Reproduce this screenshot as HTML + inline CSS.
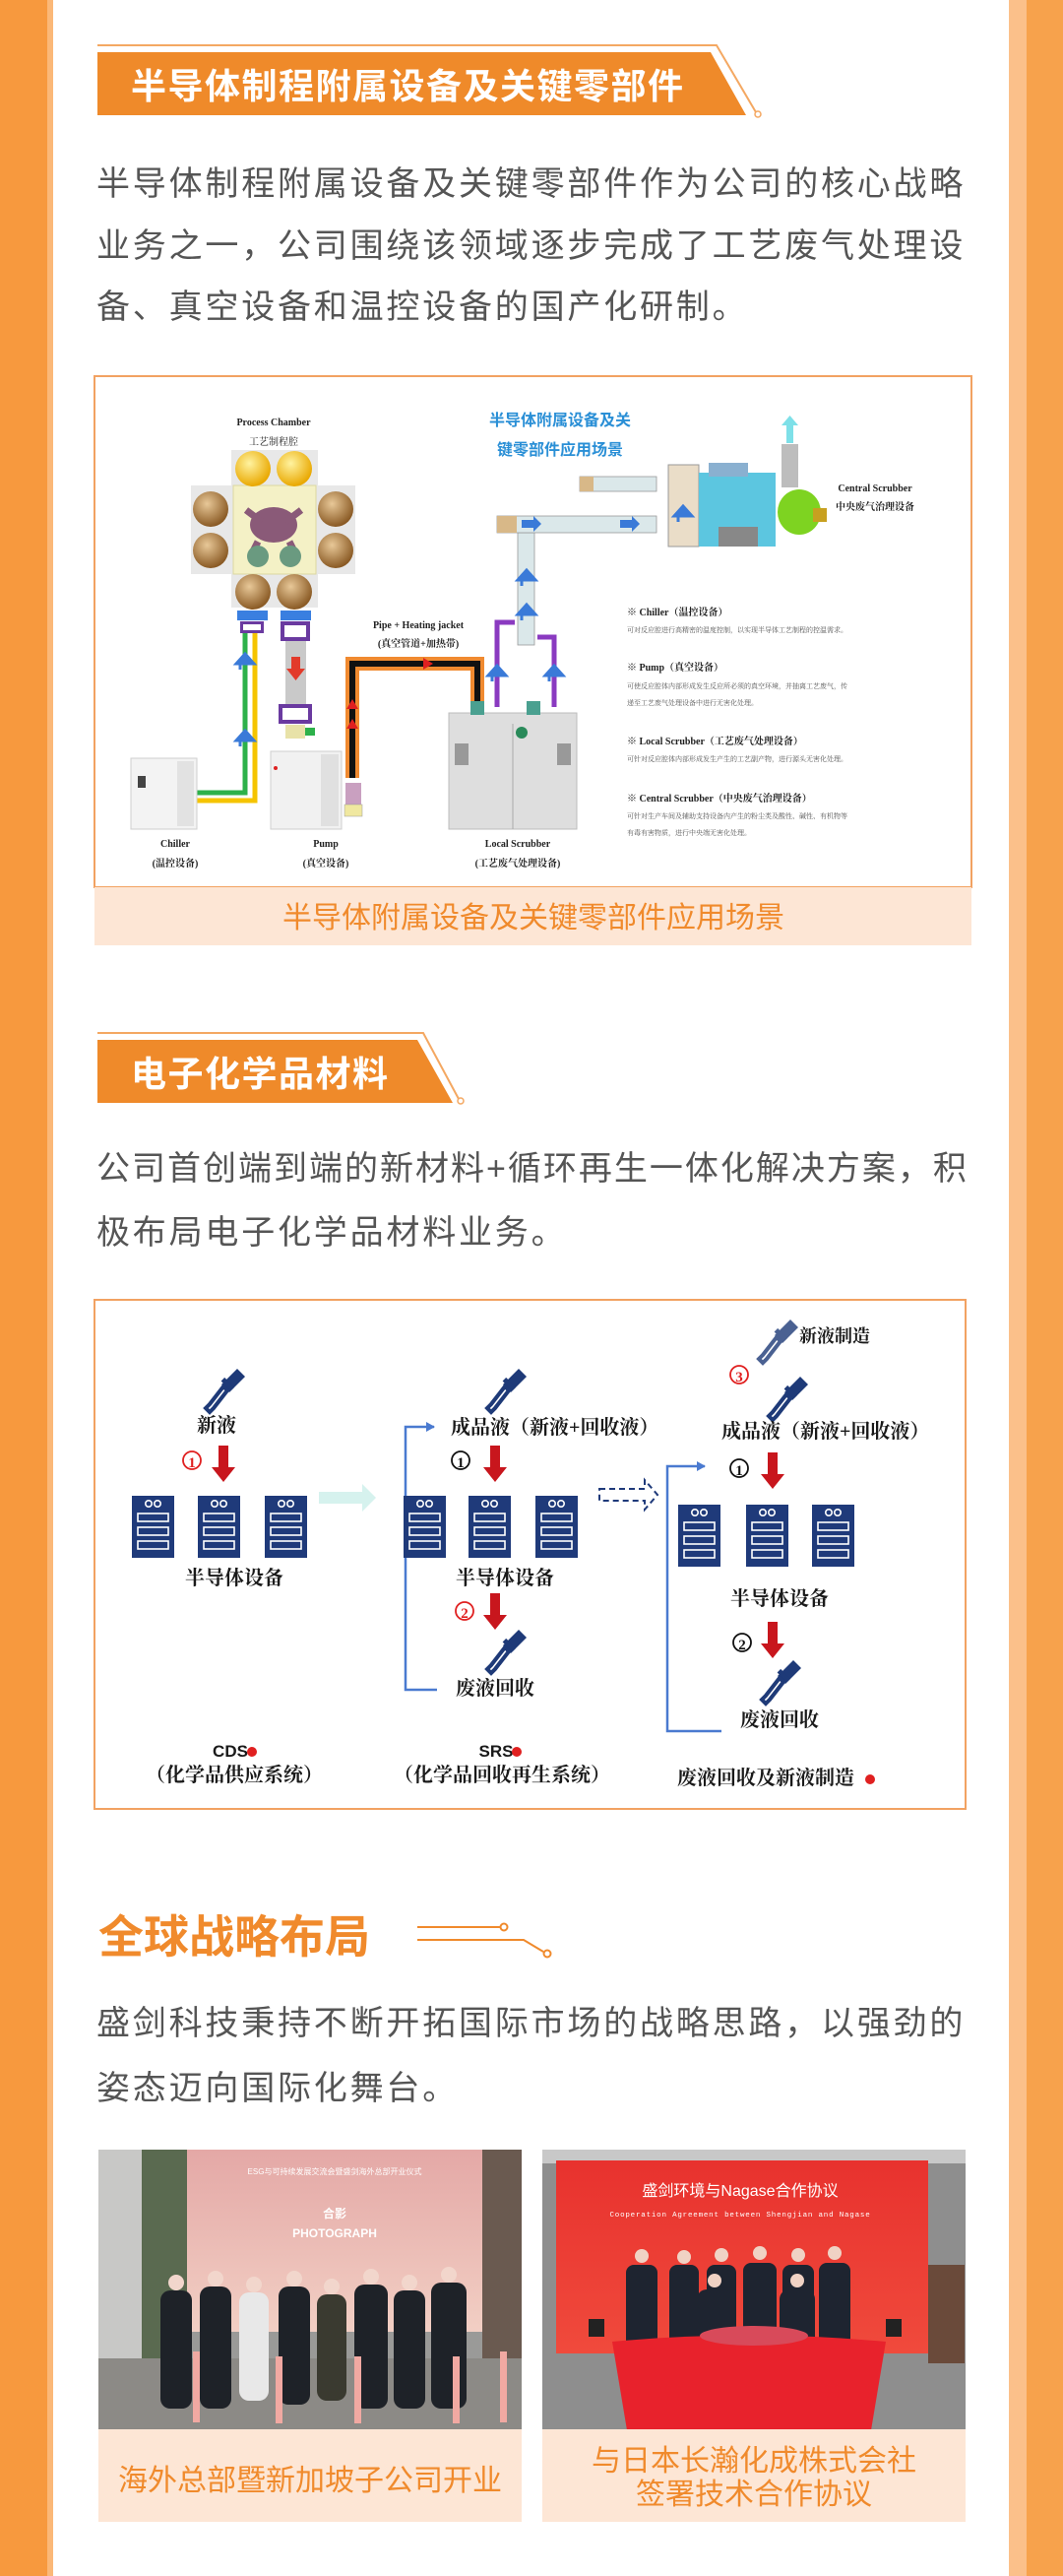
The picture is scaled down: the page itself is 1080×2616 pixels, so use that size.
<!DOCTYPE html>
<html><head><meta charset="utf-8">
<style>
html,body{margin:0;padding:0}
body{width:1080px;height:2616px;position:relative;overflow:hidden;background:#f7993e;font-family:"Liberation Sans","Noto Sans CJK SC",sans-serif}
.panel{position:absolute;left:54px;top:0;width:971px;height:2616px;background:#fff}
.ls{position:absolute;left:48px;top:0;width:6px;height:2616px;background:#fbb878}
.rs{position:absolute;left:1025px;top:0;width:18px;height:2616px;background:#fbc08a}
.rb{position:absolute;left:1043px;top:0;width:37px;height:2616px;background:#f7a24c}
.p{position:absolute;left:98px;font-size:34px;letter-spacing:2.8px;color:#555;white-space:nowrap;line-height:40px}
svg text{font-family:"Liberation Serif","Noto Serif CJK SC",serif}
</style></head><body>
<div class="ls"></div><div class="panel"></div><div class="rs"></div><div class="rb"></div>

<div class="p" style="top:167px">半导体制程附属设备及关键零部件作为公司的核心战略</div>
<div class="p" style="top:230px">业务之一，公司围绕该领域逐步完成了工艺废气处理设</div>
<div class="p" style="top:292px">备、真空设备和温控设备的国产化研制。</div>

<div class="p" style="top:1167px;letter-spacing:2.0px">公司首创端到端的新材料+循环再生一体化解决方案，积</div>
<div class="p" style="top:1232px">极布局电子化学品材料业务。</div>

<div class="p" style="top:2035px">盛剑科技秉持不断开拓国际市场的战略思路，以强劲的</div>
<div class="p" style="top:2101px">姿态迈向国际化舞台。</div>

<svg width="1080" height="2616" style="position:absolute;left:0;top:0" xmlns="http://www.w3.org/2000/svg">
<defs>
 <radialGradient id="gy" cx="40%" cy="35%" r="65%"><stop offset="0" stop-color="#fff3a0"/><stop offset="1" stop-color="#e9a800"/></radialGradient>
 <radialGradient id="gb" cx="40%" cy="35%" r="65%"><stop offset="0" stop-color="#e8c898"/><stop offset="1" stop-color="#8a5a24"/></radialGradient>
 <g id="drop">
  <path d="M14,-22 L22,-14 L6,2 L-2,-6 Z" fill="#1e3a78"/>
  <path d="M0,-4 L4,0 L-10,18 L-14,22 L-18,18 L-14,14 Z" fill="none" stroke="#1e3a78" stroke-width="4"/>
  <rect x="-3" y="-9" width="14" height="5" transform="rotate(45 4 -6)" fill="#1e3a78"/>
 </g>
 <g id="srv">
  <rect x="0" y="0" width="43" height="63" fill="#1f3a7a"/>
  <circle cx="17" cy="8" r="3.2" fill="none" stroke="#fff" stroke-width="1.6"/>
  <circle cx="26" cy="8" r="3.2" fill="none" stroke="#fff" stroke-width="1.6"/>
  <rect x="6" y="18" width="31" height="8" fill="none" stroke="#fff" stroke-width="1.6"/>
  <rect x="6" y="32" width="31" height="8" fill="none" stroke="#fff" stroke-width="1.6"/>
  <rect x="6" y="46" width="31" height="8" fill="none" stroke="#fff" stroke-width="1.6"/>
 </g>
 <g id="rarr"><rect x="-5" y="0" width="10" height="24" fill="#c8161d"/><path d="M-12,22 L12,22 L0,37 Z" fill="#c8161d"/></g>
 <g id="barr"><path d="M-5,10 V0 M-9,4 L0,-6 L9,4 Z" fill="#3a7ad8" stroke="#3a7ad8" stroke-width="3"/></g>
</defs>

<polyline points="99,46 728,46 768,114" fill="none" stroke="#f4a862" stroke-width="2"/>
<circle cx="770" cy="116" r="3" fill="#fff" stroke="#f4a862" stroke-width="1.5"/>
<polygon points="99,53 722,53 758,117 99,117" fill="#ef8a2a"/>
<text x="133" y="100" font-size="36" font-weight="bold" fill="#fff" letter-spacing="1.5" style="font-family:'Liberation Sans','Noto Sans CJK SC',sans-serif">半导体制程附属设备及关键零部件</text>

<g transform="translate(90,370)">
 <rect x="6" y="12" width="891" height="519" fill="#fff" stroke="#f2a262" stroke-width="2"/>
 <rect x="6" y="531" width="891" height="59" fill="#fde6d5"/>
 <text x="452" y="572" font-size="30" fill="#f08a2c" text-anchor="middle" style="font-family:'Liberation Sans','Noto Sans CJK SC',sans-serif">半导体附属设备及关键零部件应用场景</text>

 <text x="188" y="62" font-size="10" font-weight="bold" fill="#222" text-anchor="middle">Process Chamber</text>
 <text x="188" y="82" font-size="10" fill="#222" text-anchor="middle">工艺制程腔</text>
 <rect x="145" y="87" width="88" height="160" fill="#e8e8e8"/>
 <rect x="104" y="123" width="167" height="90" fill="#e8e8e8"/>
 <rect x="147" y="123" width="84" height="90" fill="#f4f1c6" stroke="#dcd8a0"/>
 <circle cx="167" cy="106" r="18" fill="url(#gy)"/><circle cx="209" cy="106" r="18" fill="url(#gy)"/>
 <circle cx="124" cy="147" r="18" fill="url(#gb)"/><circle cx="124" cy="189" r="18" fill="url(#gb)"/>
 <circle cx="251" cy="147" r="18" fill="url(#gb)"/><circle cx="251" cy="189" r="18" fill="url(#gb)"/>
 <circle cx="167" cy="231" r="18" fill="url(#gb)"/><circle cx="209" cy="231" r="18" fill="url(#gb)"/>
 <ellipse cx="188" cy="163" rx="24" ry="18" fill="#8a5a78"/>
 <path d="M160,148 L176,160 M216,148 L200,160 M172,180 L166,192 M204,180 L210,192" stroke="#8a5a78" stroke-width="7"/>
 <circle cx="172" cy="195" r="11" fill="#6a9a80"/><circle cx="205" cy="195" r="11" fill="#6a9a80"/>
 <rect x="151" y="250" width="31" height="10" fill="#3a7fe0"/><rect x="195" y="250" width="31" height="10" fill="#3a7fe0"/>
 <rect x="154" y="261" width="24" height="12" fill="#6a3aa0"/><rect x="157" y="264" width="18" height="6" fill="#fff"/>
 <rect x="195" y="261" width="30" height="20" fill="#6a3aa0"/><rect x="199" y="265" width="22" height="12" fill="#fff"/>
 <rect x="200" y="281" width="21" height="65" fill="#c9c9c9"/>
 <path d="M206,297 h9 v12 h5 l-9.5,12 l-9.5,-12 h5 z" fill="#e23a2a"/>
 <rect x="193" y="345" width="34" height="20" fill="#6a3aa0"/><rect x="197" y="349" width="26" height="12" fill="#fff"/>
 <rect x="200" y="366" width="20" height="14" fill="#e8e2a8"/><rect x="220" y="369" width="10" height="8" fill="#2db14a"/>
 <polyline points="159,273 159,435 110,435" fill="none" stroke="#2db14a" stroke-width="5"/>
 <polyline points="169,273 169,443 110,443" fill="none" stroke="#f5c400" stroke-width="5"/>
 <use href="#barr" x="159" y="300"/><use href="#barr" x="159" y="378"/>
 <rect x="43" y="400" width="67" height="72" fill="#f3f3f3" stroke="#cfcfcf"/>
 <rect x="90" y="403" width="17" height="66" fill="#e2e2e2"/>
 <rect x="50" y="418" width="8" height="12" fill="#444"/>
 <rect x="185" y="393" width="72" height="79" fill="#f1f1f1" stroke="#cfcfcf"/>
 <rect x="236" y="396" width="18" height="73" fill="#e0e0e0"/>
 <circle cx="190" cy="410" r="2" fill="#d22"/>
 <path d="M268,420 V304 H395 V348" fill="none" stroke="#f08a30" stroke-width="14"/>
 <path d="M268,420 V304 H395 V348" fill="none" stroke="#111" stroke-width="6"/>
 <path d="M262,350 h12 l-6,-10 z M262,370 h12 l-6,-10 z" fill="#e02020"/>
 <path d="M340,298 v12 l10,-6 z" fill="#e02020"/>
 <rect x="261" y="425" width="16" height="22" fill="#c9a0c0"/><rect x="260" y="447" width="18" height="12" fill="#f0e8a0" stroke="#999" stroke-width=".5"/>
 <rect x="366" y="354" width="130" height="118" fill="#dedede" stroke="#bcbcbc"/>
 <line x1="431" y1="365" x2="431" y2="472" stroke="#aaa"/>
 <rect x="372" y="385" width="14" height="22" fill="#999"/><rect x="476" y="385" width="14" height="22" fill="#999"/>
 <circle cx="440" cy="374" r="6" fill="#2a8a5a"/>
 <rect x="388" y="342" width="14" height="14" fill="#4aa090"/><rect x="445" y="342" width="14" height="14" fill="#4aa090"/>
 <path d="M415,348 V262 H433" fill="none" stroke="#8a3ac0" stroke-width="5"/>
 <path d="M473,348 V277 H456" fill="none" stroke="#8a3ac0" stroke-width="5"/>
 <use href="#barr" x="415" y="312"/><use href="#barr" x="473" y="312"/>
 <rect x="436" y="171" width="17" height="114" fill="#dbe8ea" stroke="#999" stroke-width=".8"/>
 <rect x="415" y="154" width="162" height="17" fill="#dbe8ea" stroke="#999" stroke-width=".8"/>
 <rect x="415" y="154" width="20" height="17" fill="#d8b888"/>
 <rect x="499" y="114" width="78" height="15" fill="#dbe8ea" stroke="#999" stroke-width=".8"/>
 <rect x="499" y="114" width="14" height="15" fill="#d8b888"/>
 <use href="#barr" x="445" y="215"/><use href="#barr" x="445" y="250"/>
 <path d="M440,158 h12 v-4 l8,8 l-8,8 v-4 h-12 z M540,158 h12 v-4 l8,8 l-8,8 v-4 h-12 z" fill="#3a7ad8"/>
 <rect x="589" y="102" width="31" height="83" fill="#eaddc8" stroke="#999"/>
 <use href="#barr" x="604" y="150"/>
 <rect x="620" y="110" width="78" height="75" fill="#5cc6e0"/>
 <rect x="630" y="100" width="40" height="14" fill="#8ab0d0"/>
 <rect x="640" y="165" width="40" height="20" fill="#888"/>
 <ellipse cx="722" cy="150" rx="22" ry="23" fill="#7ed321"/>
 <rect x="736" y="146" width="14" height="14" fill="#c8a020"/>
 <rect x="704" y="81" width="17" height="44" fill="#bdbdbd"/>
 <path d="M709,80 V62 h-5 l8.5,-10 l8.5,10 h-5 v18 z" fill="#7ee0e8"/>
 <text x="479" y="62" font-size="16" font-weight="bold" fill="#2a8fd6" text-anchor="middle" style="font-family:'Liberation Sans','Noto Sans CJK SC',sans-serif">半导体附属设备及关</text>
 <text x="479" y="92" font-size="16" font-weight="bold" fill="#2a8fd6" text-anchor="middle" style="font-family:'Liberation Sans','Noto Sans CJK SC',sans-serif">键零部件应用场景</text>
 <text x="799" y="129" font-size="10" font-weight="bold" fill="#222" text-anchor="middle">Central Scrubber</text>
 <text x="799" y="148" font-size="10" font-weight="bold" fill="#222" text-anchor="middle">中央废气治理设备</text>
 <text x="335" y="268" font-size="10" font-weight="bold" fill="#222" text-anchor="middle">Pipe + Heating jacket</text>
 <text x="335" y="287" font-size="10" font-weight="bold" fill="#222" text-anchor="middle">(真空管道+加热带)</text>
 <text x="88" y="490" font-size="10" font-weight="bold" fill="#222" text-anchor="middle">Chiller</text>
 <text x="88" y="510" font-size="10" font-weight="bold" fill="#222" text-anchor="middle">(温控设备)</text>
 <text x="241" y="490" font-size="10" font-weight="bold" fill="#222" text-anchor="middle">Pump</text>
 <text x="241" y="510" font-size="10" font-weight="bold" fill="#222" text-anchor="middle">(真空设备)</text>
 <text x="436" y="490" font-size="10" font-weight="bold" fill="#222" text-anchor="middle">Local Scrubber</text>
 <text x="436" y="510" font-size="10" font-weight="bold" fill="#222" text-anchor="middle">(工艺废气处理设备)</text>
 <g font-size="10" font-weight="bold" fill="#222">
  <text x="547" y="255">※ Chiller（温控设备）</text>
  <text x="547" y="311">※ Pump（真空设备）</text>
  <text x="547" y="386">※ Local Scrubber（工艺废气处理设备）</text>
  <text x="547" y="444">※ Central Scrubber（中央废气治理设备）</text>
 </g>
 <g font-size="7" fill="#555">
  <text x="547" y="272">可对反应腔进行高精密的温度控制，以实现半导体工艺制程的控温需求。</text>
  <text x="547" y="329">可使反应腔体内部形成发生反应所必须的真空环境，并抽离工艺废气，传</text>
  <text x="547" y="346">递至工艺废气处理设备中进行无害化处理。</text>
  <text x="547" y="403">可针对反应腔体内部形成发生产生的工艺副产物，进行源头无害化处理。</text>
  <text x="547" y="461">可针对生产车间及辅助支持设备内产生的粉尘类及酸性、碱性、有机物等</text>
  <text x="547" y="478">有毒有害物质，进行中央端无害化处理。</text>
 </g>
</g>

<polyline points="99,1049 430,1049 466,1116" fill="none" stroke="#f4a862" stroke-width="2"/>
<circle cx="468" cy="1118" r="3" fill="#fff" stroke="#f4a862" stroke-width="1.5"/>
<polygon points="99,1056 424,1056 460,1120 99,1120" fill="#ef8a2a"/>
<text x="133" y="1103" font-size="36" font-weight="bold" fill="#fff" letter-spacing="1.5" style="font-family:'Liberation Sans','Noto Sans CJK SC',sans-serif">电子化学品材料</text>

<rect x="96" y="1320" width="885" height="517" fill="#fff" stroke="#f2a262" stroke-width="2"/>
<g font-size="20" font-weight="bold" fill="#1a1a1a" style="font-family:'Noto Serif CJK SC','Liberation Serif',serif">
 <use href="#drop" x="227" y="1412"/>
 <text x="220" y="1454" text-anchor="middle">新液</text>
 <circle cx="195" cy="1483" r="9" fill="#fff" stroke="#e02020" stroke-width="1.8"/><text x="195" y="1490" font-size="15" fill="#e02020" text-anchor="middle">1</text>
 <use href="#rarr" x="227" y="1468"/>
 <use href="#srv" x="134" y="1519"/><use href="#srv" x="201" y="1519"/><use href="#srv" x="269" y="1519"/>
 <text x="238" y="1609" text-anchor="middle">半导体设备</text>
 <path d="M324,1515 h44 v-8 l14,14 l-14,14 v-8 h-44 z" fill="#d6f2ee"/>

 <polyline points="441,1449 412,1449 412,1716 444,1716" fill="none" stroke="#4a7ad0" stroke-width="2.5"/>
 <path d="M433,1444 l9,5 l-9,5 z" fill="#4a7ad0"/>
 <use href="#drop" x="513" y="1412"/>
 <text x="458" y="1456">成品液（新液+回收液）</text>
 <circle cx="468" cy="1483" r="9" fill="#fff" stroke="#111" stroke-width="1.8"/><text x="468" y="1490" font-size="15" fill="#111" text-anchor="middle">1</text>
 <use href="#rarr" x="503" y="1468"/>
 <use href="#srv" x="410" y="1519"/><use href="#srv" x="476" y="1519"/><use href="#srv" x="544" y="1519"/>
 <text x="513" y="1609" text-anchor="middle">半导体设备</text>
 <circle cx="472" cy="1636" r="9" fill="#fff" stroke="#e02020" stroke-width="1.8"/><text x="472" y="1643" font-size="15" fill="#e02020" text-anchor="middle">2</text>
 <use href="#rarr" x="503" y="1618"/>
 <use href="#drop" x="513" y="1677"/>
 <text x="503" y="1721" text-anchor="middle">废液回收</text>
 <path d="M609,1512 h46 v-9 l13,15 l-13,15 v-9 h-46 z" fill="none" stroke="#1f3a7a" stroke-width="2" stroke-dasharray="6,4"/>

 <polyline points="716,1489 678,1489 678,1758 733,1758" fill="none" stroke="#4a7ad0" stroke-width="2.5"/>
 <path d="M708,1484 l9,5 l-9,5 z" fill="#4a7ad0"/>
 <g opacity="0.8"><use href="#drop" x="789" y="1362"/></g>
 <text x="812" y="1363" font-size="18">新液制造</text>
 <circle cx="751" cy="1396" r="9" fill="#fff" stroke="#e02020" stroke-width="1.8"/><text x="751" y="1403" font-size="15" fill="#e02020" text-anchor="middle">3</text>
 <use href="#drop" x="799" y="1420"/>
 <text x="733" y="1460">成品液（新液+回收液）</text>
 <circle cx="751" cy="1491" r="9" fill="#fff" stroke="#111" stroke-width="1.8"/><text x="751" y="1498" font-size="15" fill="#111" text-anchor="middle">1</text>
 <use href="#rarr" x="785" y="1475"/>
 <use href="#srv" x="689" y="1528"/><use href="#srv" x="758" y="1528"/><use href="#srv" x="825" y="1528"/>
 <text x="792" y="1630" text-anchor="middle">半导体设备</text>
 <circle cx="754" cy="1668" r="9" fill="#fff" stroke="#111" stroke-width="1.8"/><text x="754" y="1675" font-size="15" fill="#111" text-anchor="middle">2</text>
 <use href="#rarr" x="785" y="1647"/>
 <use href="#drop" x="792" y="1708"/>
 <text x="792" y="1753" text-anchor="middle">废液回收</text>

 <text x="234" y="1784" font-size="17" text-anchor="middle" style="font-family:'Liberation Sans',sans-serif">CDS</text>
 <circle cx="256" cy="1779" r="5" fill="#e02020"/>
 <text x="238" y="1809" text-anchor="middle">（化学品供应系统）</text>
 <text x="504" y="1784" font-size="17" text-anchor="middle" style="font-family:'Liberation Sans',sans-serif">SRS</text>
 <circle cx="525" cy="1779" r="5" fill="#e02020"/>
 <text x="510" y="1809" text-anchor="middle">（化学品回收再生系统）</text>
 <text x="778" y="1812" text-anchor="middle">废液回收及新液制造</text>
 <circle cx="884" cy="1807" r="5" fill="#e02020"/>
</g>

<text x="100" y="1983" font-size="46" font-weight="bold" fill="#f08a2c" style="font-family:'Liberation Sans','Noto Sans CJK SC',sans-serif">全球战略布局</text>
<g fill="none" stroke="#f08a2c" stroke-width="2">
 <line x1="424" y1="1957" x2="508" y2="1957"/>
 <circle cx="512" cy="1957" r="3.5" fill="#fff"/>
 <polyline points="424,1970 532,1970 552,1982"/>
 <circle cx="556" cy="1984" r="3.5" fill="#fff"/>
</g>

<defs>
 <linearGradient id="pk" x1="0" y1="0" x2="0" y2="1"><stop offset="0" stop-color="#e4a8a6"/><stop offset="1" stop-color="#f2cfc4"/></linearGradient>
 <linearGradient id="rd" x1="0" y1="0" x2="0" y2="1"><stop offset="0" stop-color="#e8322e"/><stop offset="1" stop-color="#f04a3c"/></linearGradient>
</defs>
<rect x="100" y="2183" width="430" height="284" fill="#9a9a98"/>
<rect x="100" y="2183" width="44" height="284" fill="#c8c8c6"/>
<rect x="144" y="2183" width="50" height="270" fill="#5a6a50"/>
<rect x="190" y="2183" width="300" height="185" fill="url(#pk)"/>
<rect x="490" y="2183" width="40" height="284" fill="#6a5a50"/>
<text x="340" y="2208" font-size="8" fill="#fff" text-anchor="middle" style="font-family:'Liberation Sans','Noto Sans CJK SC',sans-serif">ESG与可持续发展交流会暨盛剑海外总部开业仪式</text>
<text x="340" y="2252" font-size="12" fill="#fff" font-weight="bold" text-anchor="middle" style="font-family:'Liberation Sans','Noto Sans CJK SC',sans-serif">合影</text>
<text x="340" y="2272" font-size="12" fill="#fff" font-weight="bold" text-anchor="middle" style="font-family:'Liberation Sans',sans-serif">PHOTOGRAPH</text>
<rect x="100" y="2395" width="430" height="72" fill="#8c8a86"/>
<g fill="#1e2228">
 <rect x="163" y="2326" width="32" height="120" rx="10"/><rect x="203" y="2322" width="32" height="124" rx="10"/>
 <rect x="243" y="2328" width="30" height="110" rx="10" fill="#e8e8e8"/><rect x="283" y="2322" width="32" height="120" rx="10"/>
 <rect x="322" y="2330" width="30" height="108" rx="10" fill="#3a3a30"/><rect x="360" y="2320" width="34" height="126" rx="10"/>
 <rect x="400" y="2326" width="32" height="120" rx="10"/><rect x="438" y="2318" width="36" height="128" rx="10"/>
</g>
<g fill="#f1a9a2"><rect x="196" y="2388" width="7" height="72"/><rect x="280" y="2393" width="7" height="68"/><rect x="360" y="2393" width="7" height="68"/><rect x="460" y="2393" width="7" height="68"/><rect x="508" y="2388" width="7" height="72"/></g>
<g fill="#f2d6cc"><circle cx="179" cy="2318" r="8"/><circle cx="219" cy="2314" r="8"/><circle cx="258" cy="2320" r="8"/><circle cx="299" cy="2314" r="8"/><circle cx="337" cy="2322" r="8"/><circle cx="377" cy="2312" r="8"/><circle cx="416" cy="2318" r="8"/><circle cx="456" cy="2310" r="8"/></g>
<rect x="100" y="2467" width="430" height="94" fill="#fde6d5"/>
<text x="315" y="2529" font-size="30" fill="#f08a2c" text-anchor="middle" style="font-family:'Liberation Sans','Noto Sans CJK SC',sans-serif">海外总部暨新加坡子公司开业</text>

<rect x="551" y="2183" width="430" height="284" fill="#8e8e8e"/>
<rect x="551" y="2183" width="430" height="14" fill="#c8c8c8"/>
<rect x="565" y="2194" width="378" height="196" fill="url(#rd)"/>
<rect x="943" y="2300" width="37" height="100" fill="#6a4a3a"/>
<text x="752" y="2230" font-size="16" fill="#fff" text-anchor="middle" style="font-family:'Liberation Sans','Noto Sans CJK SC',sans-serif">盛剑环境与Nagase合作协议</text>
<text x="752" y="2251" font-size="7.5" fill="#fff" text-anchor="middle" letter-spacing="0.8" style="font-family:'Liberation Mono',monospace">Cooperation Agreement between Shengjian and Nagase</text>
<g fill="#1e2430">
 <rect x="636" y="2300" width="32" height="95" rx="8"/><rect x="680" y="2300" width="30" height="90" rx="8"/>
 <rect x="718" y="2300" width="30" height="90" rx="8"/><rect x="755" y="2298" width="34" height="90" rx="8"/>
 <rect x="795" y="2300" width="32" height="90" rx="8"/><rect x="832" y="2298" width="32" height="98" rx="8"/>
 <rect x="708" y="2325" width="36" height="60" rx="10"/><rect x="792" y="2325" width="36" height="60" rx="10"/>
</g>
<g fill="#f0d2c4"><circle cx="652" cy="2291" r="7"/><circle cx="695" cy="2292" r="7"/><circle cx="733" cy="2290" r="7"/><circle cx="772" cy="2288" r="7"/><circle cx="811" cy="2290" r="7"/><circle cx="848" cy="2288" r="7"/><circle cx="726" cy="2316" r="7"/><circle cx="810" cy="2316" r="7"/></g>
<path d="M622,2378 Q760,2365 900,2378 L885,2468 L637,2468 Z" fill="#e8222c"/>
<ellipse cx="766" cy="2372" rx="55" ry="10" fill="#d84a5a"/>
<rect x="598" y="2355" width="16" height="18" fill="#222"/><rect x="900" y="2355" width="16" height="18" fill="#222"/>
<rect x="551" y="2467" width="430" height="94" fill="#fde6d5"/>
<text x="766" y="2509" font-size="30" fill="#f08a2c" text-anchor="middle" style="font-family:'Liberation Sans','Noto Sans CJK SC',sans-serif">与日本长瀚化成株式会社</text>
<text x="766" y="2543" font-size="30" fill="#f08a2c" text-anchor="middle" style="font-family:'Liberation Sans','Noto Sans CJK SC',sans-serif">签署技术合作协议</text>
</svg>
</body></html>
